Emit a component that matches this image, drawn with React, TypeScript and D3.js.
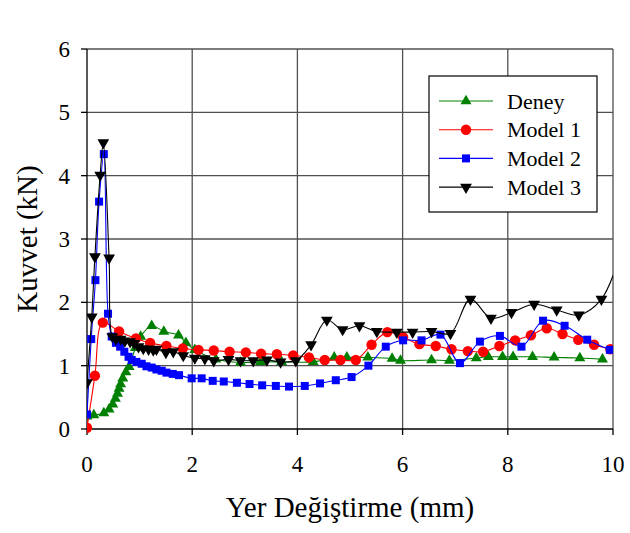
import React from "react";
import * as d3 from "d3";

type Pt = [number, number];

const xTicks = [0, 2, 4, 6, 8, 10];
const yTicks = [0, 1, 2, 3, 4, 5, 6];
const xLabel = "Yer Değiştirme (mm)";
const yLabel = "Kuvvet (kN)";
const seriesNames = ["Deney", "Model 1", "Model 2", "Model 3"];

const deney: Pt[] = [
  [0, 0.2], [0.13, 0.22], [0.32, 0.25], [0.42, 0.31], [0.49, 0.39], [0.54, 0.48],
  [0.58, 0.56], [0.61, 0.64], [0.64, 0.71], [0.68, 0.8], [0.74, 0.9], [0.8, 0.98],
  [0.92, 1.28], [1.02, 1.46], [1.23, 1.63], [1.46, 1.54], [1.74, 1.48], [1.88, 1.36],
  [2.05, 1.25], [2.45, 1.1], [2.92, 1.05], [3.3, 1.06], [3.7, 1.06], [4.3, 1.06],
  [4.7, 1.13], [4.94, 1.13], [5.34, 1.13], [5.8, 1.11], [5.96, 1.08], [6.55, 1.09],
  [6.89, 1.08], [7.4, 1.12], [7.63, 1.14], [7.9, 1.14], [8.1, 1.14], [8.47, 1.14],
  [8.88, 1.13], [9.37, 1.12], [9.8, 1.1],
];

const model1: Pt[] = [
  [0, 0.02], [0.15, 0.84], [0.3, 1.68], [0.61, 1.54], [0.93, 1.43], [1.2, 1.36],
  [1.51, 1.31], [1.82, 1.27], [2.12, 1.25], [2.41, 1.24], [2.71, 1.22], [3.02, 1.21],
  [3.31, 1.19], [3.61, 1.18], [3.92, 1.16], [4.22, 1.13], [4.52, 1.09], [4.82, 1.09],
  [5.11, 1.09], [5.41, 1.33], [5.71, 1.53], [6.01, 1.45], [6.32, 1.34], [6.63, 1.31],
  [6.93, 1.26], [7.24, 1.23], [7.53, 1.22], [7.84, 1.31], [8.14, 1.4], [8.44, 1.48],
  [8.74, 1.59], [9.04, 1.5], [9.34, 1.41], [9.64, 1.33], [9.95, 1.26],
];

const model2: Pt[] = [
  [0, 0.23], [0.08, 1.42], [0.16, 2.35], [0.23, 3.59], [0.32, 4.34], [0.4, 1.82],
  [0.47, 1.46], [0.55, 1.36], [0.63, 1.3], [0.71, 1.22], [0.79, 1.14], [0.85, 1.09],
  [0.94, 1.06], [1.04, 1.03], [1.13, 0.99], [1.23, 0.97], [1.32, 0.94], [1.42, 0.92],
  [1.51, 0.89], [1.63, 0.87], [1.75, 0.85], [1.99, 0.8], [2.18, 0.8], [2.39, 0.76],
  [2.6, 0.75], [2.85, 0.73], [3.09, 0.71], [3.33, 0.69], [3.59, 0.68], [3.84, 0.67],
  [4.14, 0.68], [4.43, 0.72], [4.73, 0.77], [5.03, 0.82], [5.35, 1.0], [5.68, 1.3],
  [6.01, 1.4], [6.36, 1.4], [6.72, 1.49], [7.09, 1.04], [7.47, 1.38], [7.85, 1.47],
  [8.26, 1.3], [8.67, 1.71], [9.08, 1.63], [9.51, 1.41], [9.94, 1.25],
];

const model3: Pt[] = [
  [0, 0.73], [0.09, 1.77], [0.15, 2.72], [0.25, 4.01], [0.31, 4.52], [0.42, 2.7],
  [0.48, 1.46], [0.55, 1.42], [0.64, 1.42], [0.72, 1.39], [0.82, 1.38], [0.9, 1.35],
  [0.98, 1.3], [1.07, 1.27], [1.17, 1.26], [1.26, 1.25], [1.32, 1.26], [1.5, 1.21],
  [1.64, 1.22], [1.83, 1.16], [2.05, 1.12], [2.24, 1.11], [2.41, 1.08], [2.69, 1.1],
  [2.92, 1.08], [3.16, 1.08], [3.42, 1.09], [3.68, 1.06], [3.97, 1.08], [4.26, 1.33],
  [4.56, 1.72], [4.86, 1.57], [5.18, 1.63], [5.51, 1.54], [5.89, 1.53], [6.19, 1.53],
  [6.55, 1.54], [6.91, 1.51], [7.29, 2.05], [7.68, 1.75], [8.07, 1.84], [8.5, 1.97],
  [8.93, 1.88], [9.35, 1.8], [9.78, 2.05], [10.2, 2.9],
];

const W = 630;
const H = 533;
const left = 87;
const right = 613;
const top = 49;
const bottom = 429;

const FONT = "Liberation Serif, Times New Roman, serif";

type Style = { color: string; symbol: d3.SymbolType; size: number; rotate: number };
const styles: Style[] = [
  { color: "#008000", symbol: d3.symbolTriangle, size: 52, rotate: 0 },
  { color: "#ff0000", symbol: d3.symbolCircle, size: 85, rotate: 0 },
  { color: "#0000ff", symbol: d3.symbolSquare, size: 64, rotate: 0 },
  { color: "#000000", symbol: d3.symbolTriangle, size: 60, rotate: 180 },
];

export default function App() {
  const x = d3.scaleLinear().domain([0, 10]).range([left, right]);
  const y = d3.scaleLinear().domain([0, 6]).range([bottom, top]);
  const line = d3
    .line<Pt>()
    .x((d) => x(d[0]))
    .y((d) => y(d[1]))
    .curve(d3.curveCatmullRom.alpha(0.5));
  const all = [deney, model1, model2, model3];
  const gridColor = "#505050";

  const legendX = 429;
  const legendY = 76;
  const legendW = 168;
  const legendH = 136;

  return (
    <svg
      width={W}
      height={H}
      style={{ position: "absolute", left: 0, top: 0, background: "#fff", fontFamily: FONT }}
    >
      <defs>
        <clipPath id="plotclip">
          <rect x={left} y={top - 10} width={right - left} height={bottom - top + 20} />
        </clipPath>
      </defs>
      <rect x={0} y={0} width={W} height={H} fill="#fff" />
      {yTicks.filter((t) => t > 0).map((t) => (
        <line key={"gy" + t} x1={left} x2={right} y1={y(t)} y2={y(t)} stroke={gridColor} strokeWidth={1.3} />
      ))}
      {xTicks.filter((t) => t > 0).map((t) => (
        <line key={"gx" + t} x1={x(t)} x2={x(t)} y1={top} y2={bottom} stroke={gridColor} strokeWidth={1.3} />
      ))}
      <line x1={left} x2={left} y1={top} y2={bottom} stroke="#000" strokeWidth={1.3} />
      <line x1={left} x2={right} y1={bottom} y2={bottom} stroke="#000" strokeWidth={1.3} />
      {yTicks.map((t) => (
        <g key={"yt" + t}>
          <line x1={left - 6} x2={left} y1={y(t)} y2={y(t)} stroke="#000" strokeWidth={1.3} />
          <text x={left - 17} y={y(t)} dy="0.35em" textAnchor="end" fontSize={23} fill="#000">
            {t}
          </text>
        </g>
      ))}
      {xTicks.map((t) => (
        <g key={"xt" + t}>
          <line x1={x(t)} x2={x(t)} y1={bottom} y2={bottom + 6} stroke="#000" strokeWidth={1.3} />
          <text x={x(t)} y={bottom + 43} textAnchor="middle" fontSize={23} fill="#000">
            {t}
          </text>
        </g>
      ))}
      <text x={(left + right) / 2} y={517} textAnchor="middle" fontSize={29} fill="#000">
        {xLabel}
      </text>
      <text
        transform={`translate(37, ${(top + bottom) / 2}) rotate(-90)`}
        textAnchor="middle"
        fontSize={29}
        fill="#000"
      >
        {yLabel}
      </text>
      <g clipPath="url(#plotclip)">
        {all.map((data, i) => {
          const s = styles[i];
          const sym = d3.symbol().type(s.symbol).size(s.size)();
          return (
            <g key={"s" + i}>
              <path d={line(data) || ""} fill="none" stroke={s.color} strokeWidth={1.1} />
              {data.map((d, j) => (
                <path
                  key={j}
                  d={sym || ""}
                  fill={s.color}
                  transform={`translate(${x(d[0])},${y(d[1])}) rotate(${s.rotate})`}
                />
              ))}
            </g>
          );
        })}
      </g>
      <rect x={legendX} y={legendY} width={legendW} height={legendH} fill="#fff" stroke="#000" strokeWidth={1.2} />
      {seriesNames.map((name, i) => {
        const s = styles[i];
        const cy = legendY + 25 + i * 28.7;
        const sym = d3.symbol().type(s.symbol).size(s.size)();
        return (
          <g key={"lg" + i}>
            <line x1={legendX + 10} x2={legendX + 64} y1={cy} y2={cy} stroke={s.color} strokeWidth={1.1} />
            <path d={sym || ""} fill={s.color} transform={`translate(${legendX + 37},${cy}) rotate(${s.rotate})`} />
            <text x={legendX + 78} y={cy} dy="0.35em" fontSize={22} fill="#000">
              {name}
            </text>
          </g>
        );
      })}
    </svg>
  );
}
